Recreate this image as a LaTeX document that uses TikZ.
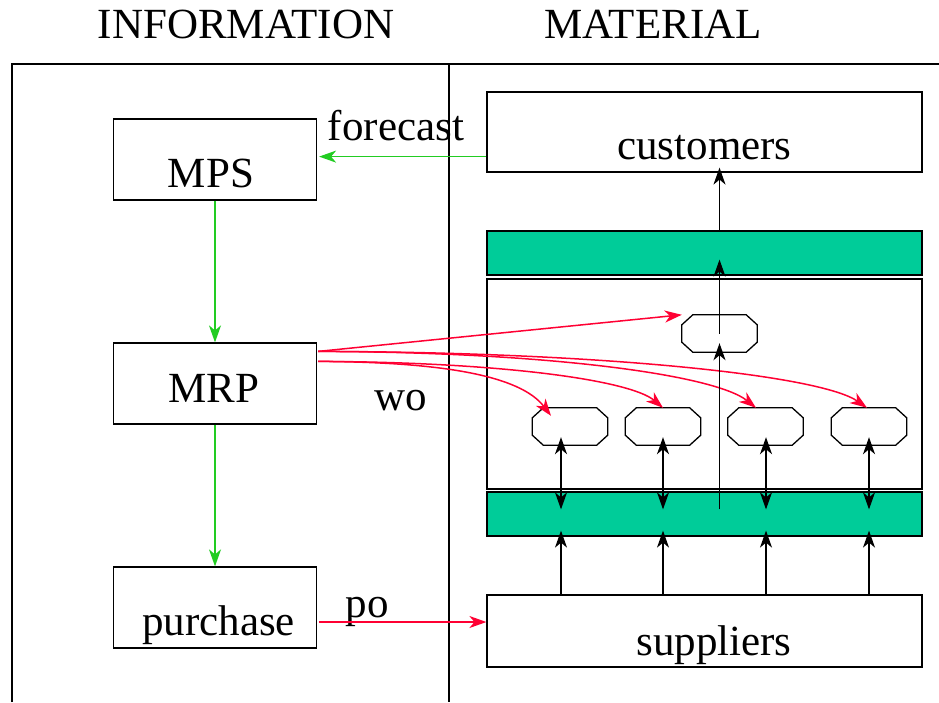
\documentclass[tikz,border=0pt]{standalone}
\usepackage{fontspec}
\setmainfont{Liberation Serif}
\usetikzlibrary{arrows.meta,calc}
\definecolor{bufgreen}{RGB}{0,204,153}
\definecolor{lred}{RGB}{255,0,51}
\definecolor{lgreen}{RGB}{34,204,34}
\begin{document}
\begin{tikzpicture}[x=1pt,y=-1pt,
  box/.style={draw, line width=1.2pt, fill=white, inner sep=0},
  buf/.style={draw, line width=1.2pt, fill=bufgreen, inner sep=0},
  octb/.style={draw=none, inner sep=0, minimum width=75pt, minimum height=37pt},
  lbl/.style={anchor=base, inner sep=0, font=\fontsize{43}{50}\selectfont},
  frame/.style={line width=1.2pt},
  tipk/.style={-{Stealth[length=17pt,width=12pt,inset=5pt]}},
  blk/.style={line width=1.3pt, black},
  redar/.style={line width=1.5pt, lred, tipk},
  grnar/.style={line width=1.5pt, lgreen, tipk},
  octline/.style={line width=1.3pt}]
\useasboundingbox (0,0) rectangle (939,702);
% frame
\draw[frame] (12,702) -- (12,64) -- (939,64);
\draw[frame] (449,64) -- (449,702);
% titles
\node[lbl] (tinfo) at (246,38) {INFORMATION};
\node[lbl] (tmat) at (653,38) {MATERIAL};
% information boxes
\node[box, minimum width=203pt, minimum height=81pt] (mps) at (215,159.5) {};
\node[box, minimum width=203pt, minimum height=81pt] (mrp) at (215,383.5) {};
\node[box, minimum width=203pt, minimum height=81pt] (pur) at (215,607.5) {};
% material boxes
\node[box, minimum width=435pt, minimum height=80pt] (cust) at (704.5,132) {};
\node[buf, minimum width=435pt, minimum height=44pt] (bufT) at (704.5,253) {};
\node[box, minimum width=435pt, minimum height=210pt] (mid) at (704.5,384) {};
\node[buf, minimum width=435pt, minimum height=44pt] (bufB) at (704.5,514) {};
\node[box, minimum width=435pt, minimum height=72pt] (sup) at (704.5,631) {};
% octagons
\node[octb] (ot) at (719.5,333.5) {};
\node[octb] (o1) at (570,426.5) {};
\node[octb] (o2) at (663,426.5) {};
\node[octb] (o3) at (765.5,426.5) {};
\node[octb] (o4) at (869,426.5) {};
\foreach \o in {ot,o1,o2,o3,o4}{
  \draw[octline] ([xshift=11pt]\o.north west) -- ([xshift=-11pt]\o.north east)
    -- ([yshift=-10pt]\o.north east) -- ([yshift=10pt]\o.south east)
    -- ([xshift=-11pt]\o.south east) -- ([xshift=11pt]\o.south west)
    -- ([yshift=10pt]\o.south west) -- ([yshift=-10pt]\o.north west) -- cycle;
}
% texts
\node[lbl] (tmps) at (211,187) {MPS};
\node[lbl] (tmrp) at (214,402) {MRP};
\node[lbl] (tpur) at (218.5,635) {purchase};
\node[lbl] (tcust) at (704.5,159) {customers};
\node[lbl] (tsup) at (714,655) {suppliers};
\node[lbl] (tfc) at (396,140) {forecast};
\node[lbl] (two) at (401,410) {wo};
\node[lbl] (tpo) at (367,617) {po};
% green arrows
\coordinate (fs) at ($(cust.south west)+(0,-16)$);
\draw[grnar] (fs) -- ($(mps.east |- fs)+(2,0)$);
\draw[grnar] (mps.south) -- (mrp.north);
\draw[grnar] (mrp.south) -- (pur.north);
% po arrow
\coordinate (ps) at ($(pur.east)+(2,14.5)$);
\draw[redar] (ps) -- (sup.west |- ps);
% wo arrows
\coordinate (r1) at ($(mrp.north east)+(1,9)$);
\coordinate (r2) at ($(mrp.north east)+(1,19)$);
\draw[redar] (r1) -- (ot.north west);
\draw[redar] (r1) .. controls (600,352) and (820,375) .. ($(o4.north)+(-2,0)$);
\draw[redar] (r1) .. controls (550,352) and (715,375) .. ($(o3.north)+(-9.5,0)$);
\draw[redar] (r2) .. controls (500,362) and (630,380) .. (o2.north);
\draw[redar] (r2) .. controls (440,362) and (520,375) .. ($(o1.north)+(-19,8)$);
% material flow arrows
\foreach \o/\dx in {o1/-9,o2/0,o3/0.5,o4/0}{
  \draw[blk, {Stealth[length=17pt,width=12pt,inset=5pt]}-{Stealth[length=17pt,width=12pt,inset=5pt]}]
    ($(\o.south)+(\dx,-8)$) -- ($(\o.south |- bufB.north)+(\dx,18)$);
  \draw[blk, tipk] ($(\o.south |- sup.north)+(\dx,0)$) -- ($(\o.south |- bufB.south)+(\dx,-6)$);
}
\draw[blk, tipk] ($(ot.south |- bufB.north)+(0,18)$) -- ($(ot.south)+(0,-9)$);
\draw[blk, tipk] (ot.center) -- ($(ot.center |- bufT.south)+(0,-16)$);
\draw[blk, tipk] (ot.center |- bufT.north) -- ($(ot.center |- cust.south)+(0,-5)$);
\end{tikzpicture}
\end{document}
